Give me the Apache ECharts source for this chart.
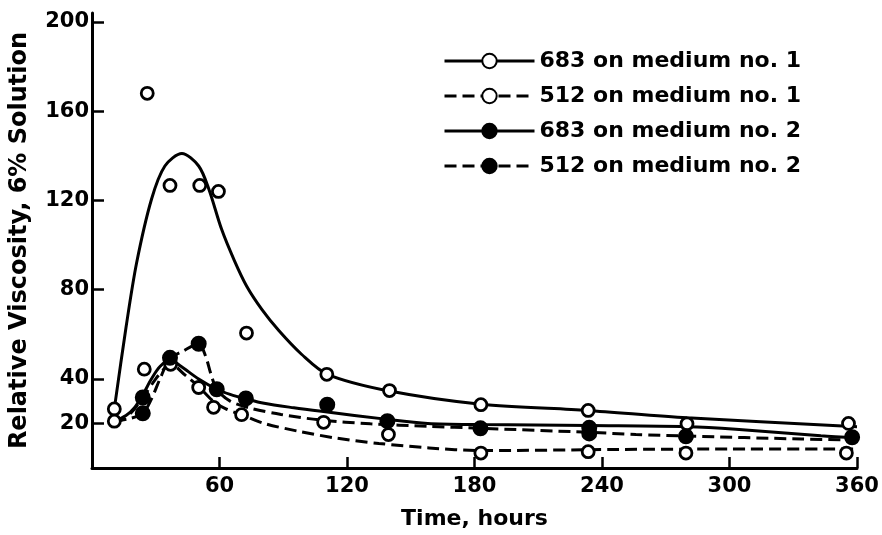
<!DOCTYPE html>
<html>
<head>
<meta charset="utf-8">
<script src="https://cdn.jsdelivr.net/npm/echarts@6/dist/echarts.min.js"></script>
<style>
html,body{margin:0;padding:0;background:#fff;}
#chart{width:882px;height:535px;}
</style>
</head>
<body>
<div id="chart"></div>
<script>
// ---- data ----
const xTicks = [60, 120, 180, 240, 300, 360];
const yTicks = [20, 40, 80, 120, 160, 200];
const seriesNames = ['683 on medium no. 1', '512 on medium no. 1', '683 on medium no. 2', '512 on medium no. 2'];

// measured points [hours, relative viscosity]
const pts683m1 = [[10.5,26.5],[26,168],[36.7,126.7],[50.7,126.7],[59.5,124],[72.7,60.5],[110.5,42],[140,34.7],[183,28.4],[233.5,25.8],[280,19.8],[356,20]];
const pts512m1 = [[10.5,21],[24.6,44.3],[37,46.5],[50.2,36.1],[57.2,27.2],[70.4,23.9],[109,20.5],[139.5,15],[183,6.7],[233.5,7.3],[279.5,6.7],[355,6.7]];
const pts683m2 = [[23.9,31.6],[36.7,49.4],[58.7,35.3],[72.4,31.2],[110.7,28.4],[139,21],[182.8,17.8],[234,18],[357.7,13.8]];
const pts512m2 = [[23.9,24.5],[50.2,55.7],[234,15.5],[279.5,14.2]];

// fitted curves
const curve683m1 = [[10.5,26.5],[16,63],[21,92],[28,120.5],[34.3,135.4],[42.3,141],[50.2,135.4],[55,125],[61,107],[67,93],[72.8,81.5],[80,71],[88,61.5],[98.6,51],[110.8,42],[140,34.5],[183,28.6],[233,25.8],[280,22.5],[360,18.5]];
const curve512m1 = [[10.5,21],[15,22],[20,26.5],[25,33],[30,40],[34,44.5],[37,46.5],[44,41.5],[50.2,36.5],[57,30],[63,26.5],[70.4,23.9],[81,20],[97,16.5],[115,13.4],[135,11],[158.6,9],[183,7.8],[247,8.3],[300,8.5],[360,8.5]];
const curve683m2 = [[10.5,21],[16,23.5],[20,27],[24,33],[28,40],[32,45.5],[36.7,48.5],[42,45.5],[50,40],[58.7,35.3],[65,33],[72.4,31],[81,29],[95,27],[108,25.4],[139,21.8],[158,20],[183,19.5],[234,19],[280,18.5],[303,17.4],[343,14.5],[360,13.6]];
const curve512m2 = [[10.5,21],[17,22],[23.9,24.5],[28,31],[32,40],[36.7,49],[43,52.5],[50.2,55.7],[53.5,50],[56,42],[58.7,35.3],[65,30],[75,26.7],[89,24],[107.6,21.5],[131,19.8],[158,18.7],[183,17.8],[234,16],[256,15],[280,14.3],[334,13],[360,12.6]];

const pointSets = [pts683m1, pts512m1, pts683m2, pts512m2];
const curveSets = [curve683m1, curve512m1, curve683m2, curve512m2];
const filled = [false, false, true, true];
const dashed = [false, true, false, true];

const FONT = 'DejaVu Sans';
function markStyle(isFilled) {
  return {
    color: isFilled ? '#000' : '#fff',
    borderColor: '#000',
    borderWidth: isFilled ? 2 : 2.8,
    opacity: 1
  };
}
const series = [];
for (let i = 0; i < 4; i++) {
  series.push({
    type: 'line',
    name: seriesNames[i],
    data: curveSets[i],
    smooth: 0.3,
    showSymbol: false,
    symbol: 'circle',
    symbolSize: 13,
    itemStyle: markStyle(filled[i]),
    lineStyle: { color: '#000', width: 3, type: dashed[i] ? [12, 6] : 'solid' },
    silent: true,
    z: 2
  });
}
for (let i = 0; i < 4; i++) {
  series.push({
    type: 'scatter',
    name: seriesNames[i],
    data: pointSets[i],
    symbol: 'circle',
    symbolSize: filled[i] ? 14 : 12,
    itemStyle: markStyle(filled[i]),
    silent: true,
    z: 3
  });
}

const chart = echarts.init(document.getElementById('chart'));
chart.setOption({
  animation: false,
  backgroundColor: '#fff',
  grid: { left: 90, right: 25, top: 13, bottom: 64 },
  legend: {
    orient: 'vertical',
    left: 438,
    top: 44,
    itemWidth: 90,
    itemHeight: 18,
    itemGap: 11,
    data: seriesNames,
    lineStyle: { width: 3 },
    textStyle: { fontFamily: FONT, fontSize: 22, fontWeight: 'bold', color: '#000', lineHeight: 24 },
    selectedMode: false
  },
  xAxis: {
    type: 'value',
    min: 0,
    max: 360,
    name: 'Time, hours',
    nameLocation: 'middle',
    nameGap: 40,
    nameTextStyle: { fontFamily: FONT, fontSize: 22, fontWeight: 'bold', color: '#000' },
    axisLine: { show: true, lineStyle: { color: '#000', width: 3 } },
    axisTick: { show: true, inside: true, length: 11, customValues: xTicks, lineStyle: { color: '#000', width: 2.5 } },
    axisLabel: { customValues: xTicks, fontFamily: FONT, fontSize: 21, fontWeight: 'bold', color: '#000', margin: 8 },
    splitLine: { show: false }
  },
  yAxis: {
    type: 'value',
    min: 0,
    max: 204,
    name: 'Relative Viscosity, 6% Solution',
    nameLocation: 'middle',
    nameRotate: 90,
    nameGap: 60,
    nameTextStyle: { fontFamily: FONT, fontSize: 24, fontWeight: 'bold', color: '#000' },
    axisLine: { show: true, lineStyle: { color: '#000', width: 3 } },
    axisTick: { show: true, inside: true, length: 12, customValues: yTicks, lineStyle: { color: '#000', width: 2.5 } },
    axisLabel: { customValues: yTicks, fontFamily: FONT, fontSize: 21, fontWeight: 'bold', color: '#000', margin: 3 },
    splitLine: { show: false }
  },
  series: series
});
</script>
</body>
</html>
